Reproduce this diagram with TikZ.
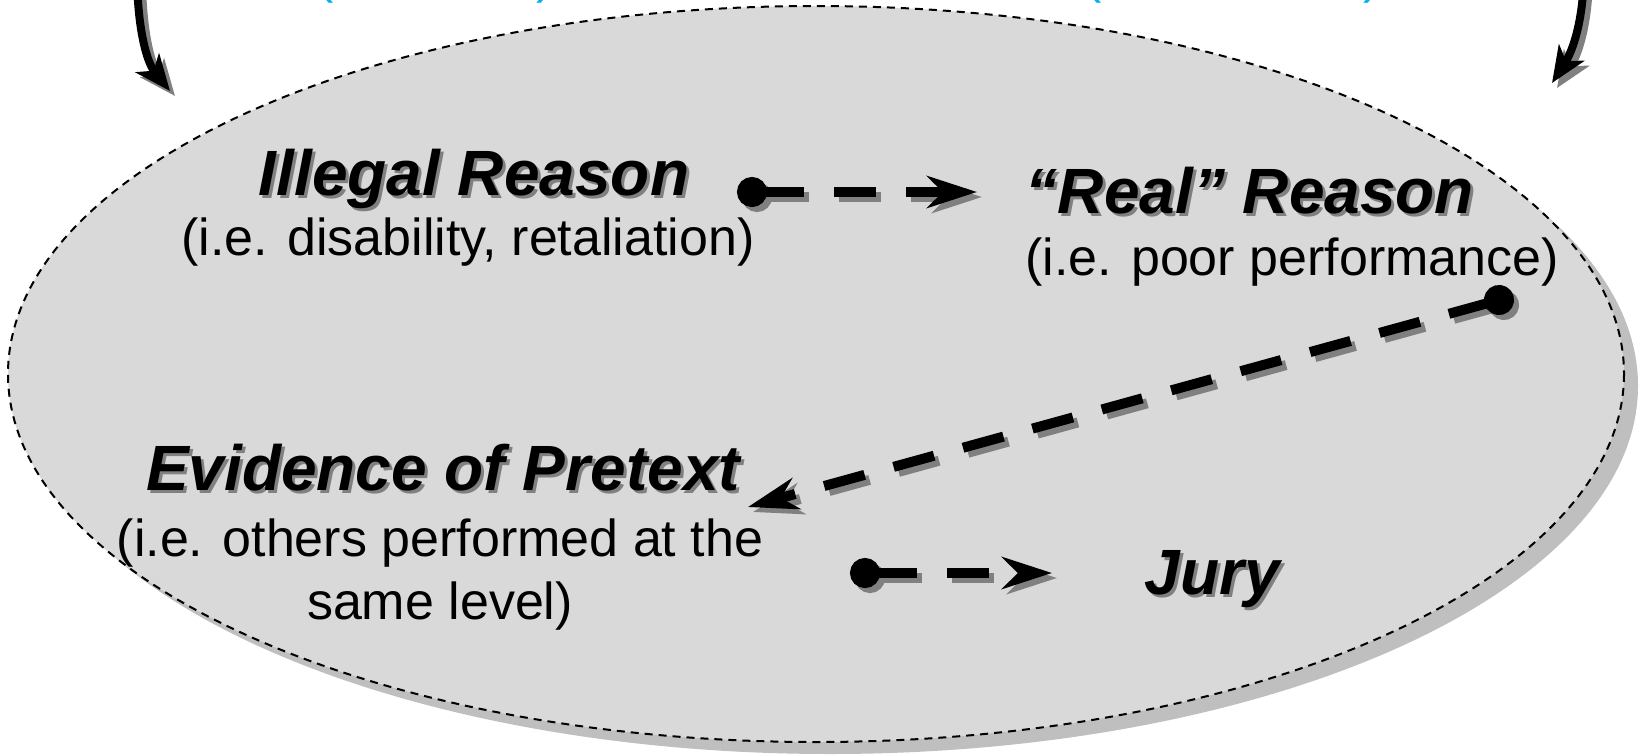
\documentclass[tikz,border=0pt]{standalone}
\usepackage{fontspec}
\setmainfont{Liberation Sans}
\usepackage{xcolor}
\usetikzlibrary{arrows.meta,positioning}

\definecolor{zonefill}{RGB}{217,217,217}
\definecolor{zoneshadow}{RGB}{191,191,191}
\definecolor{linkshadow}{RGB}{128,128,128}
\definecolor{capblue}{RGB}{0,176,240}
\newcommand{\shtitle}[1]{\rlap{\kern1.5pt\raisebox{-1.5pt}{\textcolor{black!50}{#1}}}#1}

\begin{document}
\begin{tikzpicture}[
  x=0.5pt,y=-0.5pt,
  title/.style={font=\fontsize{32}{38}\selectfont\bfseries\itshape,inner sep=0pt,anchor=base},
  note/.style={font=\fontsize{26}{31.5}\selectfont,inner sep=0pt,anchor=base,align=center},
  captext/.style={font=\fontsize{26}{31.5}\selectfont,text=capblue,inner sep=0pt,anchor=base},
  zone/.style={draw=black,line width=1pt,dash pattern=on 4pt off 3pt,fill=zonefill},
  link/.style={line width=5pt,dash pattern=on 21pt off 15pt,shorten <=-7.5pt,
    {Circle[length=15pt]}-{Stealth[length=25pt,width=16pt,inset=8pt]}},
  bendarrow/.style={line width=4pt,-{Stealth[length=18pt,width=15pt,inset=5pt]}}
]
\useasboundingbox (0,0) rectangle (1642,755);

% shaded field
\fill[zoneshadow] (830,386) ellipse [x radius=808,y radius=368];
\draw[zone] (816,374) ellipse [x radius=808,y radius=368];

% blue caption, cut off at the top
\node[captext] (capl1) at (325,-7) {(};
\node[captext] (capl2) at (545,-7) {)};
\node[captext] (capr1) at (1093,-7) {(};
\node[captext] (capr2) at (1372,-7) {)};

% connector ends
\coordinate (d1) at (752,192);
\coordinate (t1) at (977,192);
\coordinate (d2) at (1499,300);
\coordinate (t2) at (748,507);
\coordinate (d3) at (865,573);
\coordinate (t3) at (1052,573);
\coordinate (ltop) at (137,-40);
\coordinate (ltip) at (170,91);
\coordinate (rtop) at (1584,-40);
\coordinate (rtip) at (1552,83);

% shadow first, then the black arrows
\foreach \col/\off in {linkshadow/2.5pt,black/0pt}{
  \begin{scope}[transform canvas={shift={(\off,-\off)}}]
    \draw[link,draw=\col] (d1) -- (t1);
    \draw[link,draw=\col] (d2) -- (t2);
    \draw[link,draw=\col] (d3) -- (t3);
    \draw[bendarrow,draw=\col] (ltop) .. controls (136,20) and (145,60) .. (ltip);
    \draw[bendarrow,draw=\col] (rtop) .. controls (1585,20) and (1572,52) .. (rtip);
  \end{scope}
}

% labels
\node[title] (illegal) at (474,195) {\shtitle{Illegal Reason}};
\node[note] (illegalnote) at (468,255) {(i.e. disability, retaliation)};
\node[title] (real) at (1250,213) {\shtitle{“Real” Reason}};
\node[note] (realnote) at (1292,275) {(i.e. poor performance)};
\node[title] (pretext) at (443,490) {\shtitle{Evidence of Pretext}};
\node[note,anchor=center] (pretextnote) at (440,575) {(i.e. others performed at the\\same level)};
\node[title] (jury) at (1212,594) {\shtitle{Jury}};
\end{tikzpicture}
\end{document}
